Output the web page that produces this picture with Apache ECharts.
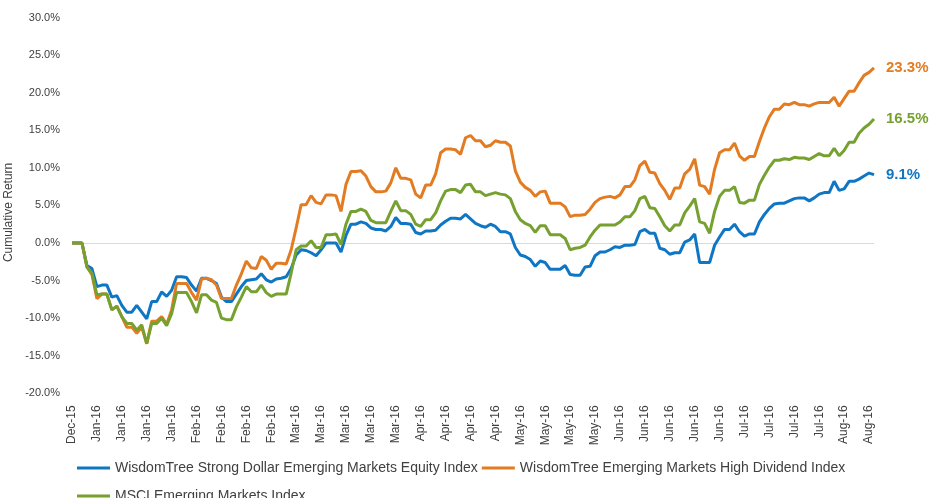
<!DOCTYPE html>
<html>
<head>
<meta charset="utf-8">
<script src="https://cdn.jsdelivr.net/npm/echarts@6/dist/echarts.min.js"></script>
<style>
  html, body { margin: 0; padding: 0; background: #fff; }
  #main { width: 932px; height: 498px; }
</style>
</head>
<body>
<div id="main"></div>
<script>
// weekly tick labels (one every 5 trading days)
const weekLabels = ['Dec-15','Jan-16','Jan-16','Jan-16','Jan-16','Feb-16','Feb-16','Feb-16','Feb-16',
  'Mar-16','Mar-16','Mar-16','Mar-16','Mar-16','Apr-16','Apr-16','Apr-16','Apr-16',
  'May-16','May-16','May-16','May-16','Jun-16','Jun-16','Jun-16','Jun-16','Jun-16',
  'Jul-16','Jul-16','Jul-16','Jul-16','Aug-16','Aug-16'];

// cumulative return (%), one value per trading day
const strongDollar = [0,0,0,-3.0,-3.4,-5.8,-5.6,-5.6,-7.2,-7.0,
  -8.3,-9.2,-9.2,-8.3,-9.2,-10.1,-7.8,-7.8,-6.5,-7.1,
  -6.3,-4.5,-4.5,-4.6,-5.6,-6.4,-4.7,-4.7,-5.0,-5.4,
  -7.2,-7.8,-7.8,-6.8,-5.8,-5.0,-4.9,-4.8,-4.1,-4.9,
  -5.2,-4.8,-4.7,-4.5,-3.4,-1.6,-0.9,-1.0,-1.3,-1.7,
  -0.9,0.0,0.0,0.0,-1.2,1.0,2.5,2.5,2.8,2.6,
  2.0,1.8,1.8,1.6,2.2,3.4,2.6,2.6,2.5,1.4,
  1.2,1.6,1.6,1.7,2.4,2.9,3.3,3.3,3.2,3.8,
  3.2,2.6,2.3,2.1,2.5,2.2,1.5,1.5,1.2,-0.6,
  -1.6,-1.8,-2.2,-3.1,-2.4,-2.6,-3.5,-3.5,-3.5,-3.0,
  -4.2,-4.3,-4.3,-3.2,-3.1,-1.7,-1.2,-1.2,-0.9,-0.5,
  -0.6,-0.3,-0.3,-0.2,1.5,1.8,1.3,1.3,-0.7,-0.9,
  -1.5,-1.3,-1.3,0.1,0.4,1.2,-2.6,-2.6,-2.6,-0.3,
  0.8,1.8,1.8,2.5,1.5,0.9,1.2,1.2,2.8,3.8,
  4.6,5.2,5.3,5.3,5.6,5.9,6.0,6.0,5.6,6.0,
  6.5,6.7,6.7,8.2,7.0,7.2,8.2,8.2,8.5,8.9,
  9.3,9.1];

const highDividend = [0,0,0,-3.2,-4.2,-7.4,-6.8,-6.8,-8.9,-8.4,
  -9.8,-11.2,-11.2,-12.0,-11.2,-13.4,-10.4,-10.4,-9.8,-10.8,
  -8.9,-5.4,-5.4,-5.4,-6.6,-7.6,-4.8,-4.7,-4.9,-5.6,
  -7.4,-7.4,-7.4,-5.6,-4.1,-2.4,-3.3,-3.4,-1.8,-2.3,
  -3.5,-2.7,-2.7,-2.8,-0.9,2.0,5.1,5.1,6.3,5.4,
  5.2,6.4,6.4,6.3,4.2,7.8,9.5,9.5,9.6,8.9,
  7.5,6.8,6.8,6.9,8.0,10.0,8.6,8.6,8.4,6.5,
  6.0,7.7,7.7,9.2,12.0,12.5,12.5,12.4,11.8,14.0,
  14.3,13.6,13.6,12.8,13.0,13.6,13.4,13.4,12.9,9.6,
  8.1,7.4,7.0,6.2,6.8,6.9,5.3,5.3,5.3,4.8,
  3.5,3.7,3.7,3.8,4.5,5.4,5.9,6.1,6.2,6.0,
  6.4,7.5,7.5,8.4,10.3,10.9,9.4,9.3,7.9,7.0,
  5.8,7.3,7.3,9.2,9.8,11.2,7.7,7.5,6.5,9.8,
  12.0,12.4,12.4,13.3,11.6,11.0,11.5,11.5,13.5,15.3,
  16.8,17.8,17.8,18.5,18.4,18.7,18.4,18.4,18.2,18.5,
  18.7,18.7,18.7,19.4,18.2,19.2,20.2,20.2,21.3,22.3,
  22.7,23.3];

const msciEm = [0,0,0,-3.2,-4.0,-6.9,-6.8,-6.8,-8.9,-8.4,
  -9.8,-10.7,-10.7,-11.6,-10.9,-13.4,-10.7,-10.7,-10.0,-11.0,
  -9.4,-6.6,-6.6,-6.6,-7.8,-9.3,-6.9,-6.9,-7.6,-7.9,
  -10.0,-10.2,-10.2,-8.5,-7.2,-5.8,-6.5,-6.5,-5.6,-6.6,
  -7.1,-6.8,-6.8,-6.8,-4.0,-0.9,-0.4,-0.4,0.3,-0.6,
  -0.6,1.1,1.1,1.2,-0.2,2.5,4.2,4.2,4.5,4.2,
  3.0,2.7,2.7,2.7,4.2,5.6,4.3,4.3,3.8,2.5,
  2.2,3.1,3.1,4.0,5.6,6.9,7.1,7.1,6.7,7.7,
  7.8,6.8,6.8,6.3,6.5,6.7,6.5,6.4,5.9,4.2,
  3.1,2.6,2.3,1.4,2.3,2.3,1.1,1.1,1.1,0.6,
  -0.9,-0.7,-0.6,-0.3,0.8,1.7,2.4,2.4,2.4,2.4,
  2.8,3.5,3.5,4.3,5.9,6.2,4.7,4.6,3.5,2.3,
  1.6,2.4,2.4,4.0,4.9,5.9,2.8,2.6,1.3,4.2,
  6.2,7.0,7.0,7.5,5.4,5.3,5.7,5.7,7.8,9.0,
  10.1,11.0,11.0,11.2,11.1,11.4,11.3,11.3,11.1,11.5,
  11.9,11.6,11.6,12.6,11.6,12.3,13.4,13.4,14.6,15.3,
  15.8,16.5];

const seriesNames = [
  'WisdomTree Strong Dollar Emerging Markets Equity Index',
  'WisdomTree Emerging Markets High Dividend Index',
  'MSCI Emerging Markets Index'
];
const colors = ['#0f76c4', '#e27b22', '#76a030'];

const lastDay = strongDollar.length - 1;
const font = 'Liberation Sans';

// only the 0% split line is drawn (ticks run -20 .. 30, zero is the 5th)
const splitColors = ['rgba(0,0,0,0)', 'rgba(0,0,0,0)', 'rgba(0,0,0,0)', 'rgba(0,0,0,0)', '#d9d9d9',
  'rgba(0,0,0,0)', 'rgba(0,0,0,0)', 'rgba(0,0,0,0)', 'rgba(0,0,0,0)', 'rgba(0,0,0,0)', 'rgba(0,0,0,0)'];

function mkSeries(name, vals, color) {
  return {
    name: name,
    type: 'line',
    data: vals.map((v, i) => [i, v]),
    symbol: 'none',
    color: color,
    lineStyle: { width: 3, color: color },
    emphasis: { disabled: true },
    endLabel: {
      show: true,
      distance: 12,
      color: color,
      fontFamily: font,
      fontWeight: 'bold',
      fontSize: 15,
      formatter: p => p.value[1].toFixed(1) + '%'
    }
  };
}

const chart = echarts.init(document.getElementById('main'));
chart.setOption({
  animation: false,
  backgroundColor: '#fff',
  textStyle: { fontFamily: font },
  grid: { left: 72, right: 58, top: 17.5, bottom: 104.7, outerBoundsMode: 'none' },
  legend: [
    {
      data: seriesNames.slice(0, 2),
      left: 72, top: 456,
      icon: 'rect', itemWidth: 33, itemHeight: 3, itemGap: 4,
      textStyle: { fontSize: 14, color: '#404040', fontFamily: font }
    },
    {
      data: seriesNames.slice(2),
      left: 72, top: 484,
      icon: 'rect', itemWidth: 33, itemHeight: 3,
      textStyle: { fontSize: 14, color: '#404040', fontFamily: font }
    }
  ],
  xAxis: {
    type: 'value', min: 0, max: lastDay, interval: 5,
    axisLine: { show: false }, axisTick: { show: false }, splitLine: { show: false },
    axisLabel: {
      rotate: 90, margin: 12, fontSize: 12, color: '#404040', fontFamily: font,
      showMaxLabel: false,
      formatter: v => (v % 5 === 0 && weekLabels[v / 5]) ? weekLabels[v / 5] : ''
    }
  },
  yAxis: {
    type: 'value', min: -20, max: 30, interval: 5,
    name: 'Cumulative Return', nameLocation: 'middle', nameGap: 54,
    nameTextStyle: { fontSize: 12, color: '#404040', fontFamily: font, padding: [0, 14, 0, 0] },
    axisLine: { show: false }, axisTick: { show: false },
    splitLine: { show: true, lineStyle: { color: splitColors, width: 1 } },
    axisLabel: { fontSize: 11, color: '#404040', fontFamily: font, margin: 12,
      formatter: v => v.toFixed(1) + '%' }
  },
  series: [
    mkSeries(seriesNames[0], strongDollar, colors[0]),
    mkSeries(seriesNames[1], highDividend, colors[1]),
    mkSeries(seriesNames[2], msciEm, colors[2])
  ]
});
</script>
</body>
</html>
